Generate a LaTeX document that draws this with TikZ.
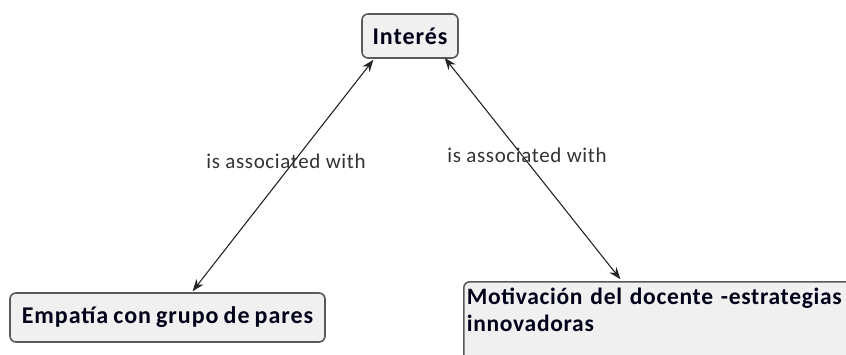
\documentclass[tikz,border=0pt]{standalone}
\usepackage{fontspec}
\setmainfont{Carlito}
\newfontfamily\nodefont[LetterSpace=4,WordSpace=0.8]{Carlito}
\newfontfamily\motfont[LetterSpace=3,WordSpace=0.35]{Carlito}
\newfontfamily\lblfont[LetterSpace=3]{Carlito}
\usetikzlibrary{arrows.meta}
\begin{document}
\begin{tikzpicture}[x=1pt,y=-1pt,
  concept/.style={draw=black!65, line width=1.6pt, fill=black!6, rounded corners=6pt,
    font=\nodefont\fontsize{24}{28}\selectfont\bfseries, inner xsep=3pt, inner ysep=3pt, text=black!90!blue},
  link/.style={line width=1.1pt, black!85, {Stealth[length=12pt,width=9pt]}-{Stealth[length=12pt,width=9pt]}, shorten <=1pt, shorten >=1pt},
  lbl/.style={font=\lblfont\fontsize{21}{23}\selectfont, text=black!80, fill=none, inner sep=1pt}]
\useasboundingbox (0,0) rectangle (846,354);
\clip (0,0) rectangle (846,354);
\fill[white] (0,0) rectangle (846,354);
\node[concept, minimum width=96pt, minimum height=44pt] (int) at (410,36) {Interés};
\node[concept, minimum width=315pt, minimum height=49pt] (emp) at (167.5,317.5) {Empatía con grupo de pares};
\node[concept, anchor=north west, text width=420pt, align=left, inner ysep=6pt,
  font=\motfont\fontsize{23.5}{27}\selectfont\bfseries] (mot) at (463,281) {Motivación del docente -estrategias\\innovadoras\\\strut};
\coordinate (a1) at (374,59);
\coordinate (a2) at (192,292);
\coordinate (b1) at (444,57);
\coordinate (b2) at (621,280);
\draw[link] (a1) -- (a2);
\draw[link] (b1) -- (b2);
\node[lbl] (l1) at (286,161) {is associated with};
\node[lbl] (l2) at (527,155) {is associated with};
\end{tikzpicture}
\end{document}
